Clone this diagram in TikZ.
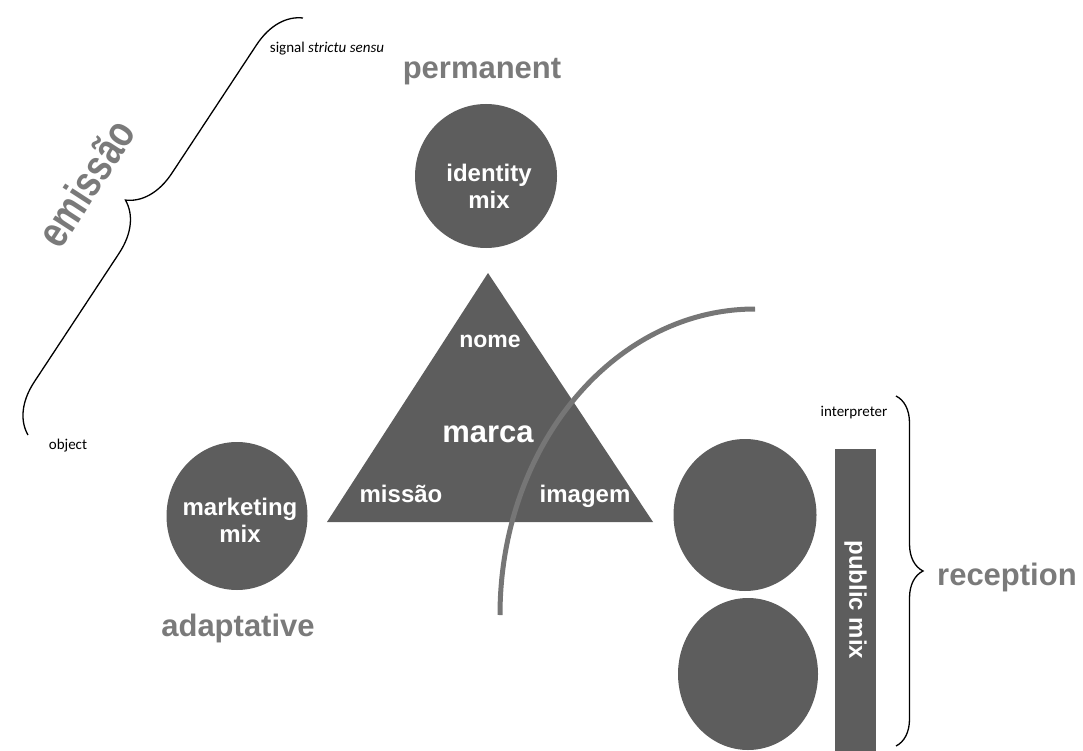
\documentclass[tikz,border=0pt]{standalone}
\usepackage{fontspec}
\setmainfont{Liberation Sans}
\newfontfamily\notefont{Carlito}
\newfontfamily\emitfont[FakeStretch=0.8]{Liberation Sans}
\usetikzlibrary{shapes.geometric,decorations.pathreplacing,positioning}
\definecolor{shapegray}{RGB}{93,93,93}
\definecolor{labelgray}{RGB}{122,122,122}
\definecolor{arcgray}{RGB}{118,118,118}

\begin{document}
\begin{tikzpicture}[x=1pt,y=1pt]
	\tikzstyle{mixcirc}=[ellipse,fill=shapegray,inner sep=0pt]
	\tikzstyle{mixtext}=[text=white,font=\bfseries\fontsize{24}{27}\selectfont,align=center,inner sep=0pt]
	\tikzstyle{inner}=[text=white,font=\bfseries\fontsize{24}{24}\selectfont,anchor=base,inner sep=0pt]
	\tikzstyle{pole}=[text=labelgray,font=\bfseries\fontsize{31}{31}\selectfont,anchor=base,inner sep=0pt]
	\tikzstyle{note}=[font=\notefont\fontsize{15}{15}\selectfont,inner sep=0pt]
	\tikzstyle{bigbrace}=[draw,line width=1.3pt,decorate,decoration={brace,amplitude=48pt}]
	\tikzstyle{smallbrace}=[draw,line width=1.3pt,decorate,decoration={brace,amplitude=27pt}]

	\useasboundingbox (0,0) rectangle (1083,-751);

	%% identity mix
	\node [mixcirc,minimum width=142pt,minimum height=144pt] (idcirc) at (486,-176) {};
	\node [mixtext] (idtext) at (489,-186) {identity\\mix};
	\node [pole] (permanent) at (482,-79) {permanent};

	%% marca
	\coordinate (apex) at (488,-273);
	\coordinate (baseR) at (653,-522);
	\coordinate (baseL) at (327,-522);
	\fill [shapegray] (apex) -- (baseR) -- (baseL) -- cycle;
	\node [inner,font=\bfseries\fontsize{23}{23}\selectfont] (nome) at (490,-347) {nome};
	\node [inner,font=\bfseries\fontsize{31}{31}\selectfont] (marca) at (488,-442) {marca};
	\node [inner] (missao) at (401,-502) {missão};
	\node [inner] (imagem) at (585,-502) {imagem};

	\coordinate (arcfoot) at (500,-615);
	\draw [arcgray,line width=5pt] (arcfoot) arc [start angle=180,end angle=90,x radius=255,y radius=306];

	%% marketing mix
	\node [mixcirc,minimum width=141pt,minimum height=148pt] (mkcirc) at (237,-516) {};
	\node [mixtext] (mktext) at (240,-520) {marketing\\mix};
	\node [pole] (adaptative) at (238,-636) {adaptative};

	%% public mix
	\node [mixcirc,minimum width=143pt,minimum height=152pt] (pubA) at (745,-515) {};
	\node [mixcirc,minimum width=140pt,minimum height=152pt] (pubB) at (748,-674) {};
	\node [fill=shapegray,rotate=-90,minimum width=302pt,minimum height=41pt,inner sep=0pt,
	       text=white,font=\bfseries\fontsize{24}{24}\selectfont] (pubmix) at (855.5,-600) {public mix};
	\node [note] (interp) at (854,-413) {interpreter};
	\coordinate (rtop) at (896,-396);
	\coordinate (rbot) at (896,-746);
	\draw [smallbrace] (rtop) -- (rbot);
	\node [pole,anchor=base west] (reception) at (937,-585) {reception};

	%% emissao
	\coordinate (etop) at (303,-18);
	\coordinate (ebot) at (28,-435);
	\draw [bigbrace] (ebot) -- (etop);
	\node [text=labelgray,font=\emitfont\bfseries\fontsize{44}{44}\selectfont,inner sep=0pt,rotate=57] (emissao) at (86,-183) {emissão};
	\node [note] (signal) at (327,-49) {signal \textit{strictu sensu}};
	\node [note] (object) at (68,-446) {object};
\end{tikzpicture}
\end{document}
